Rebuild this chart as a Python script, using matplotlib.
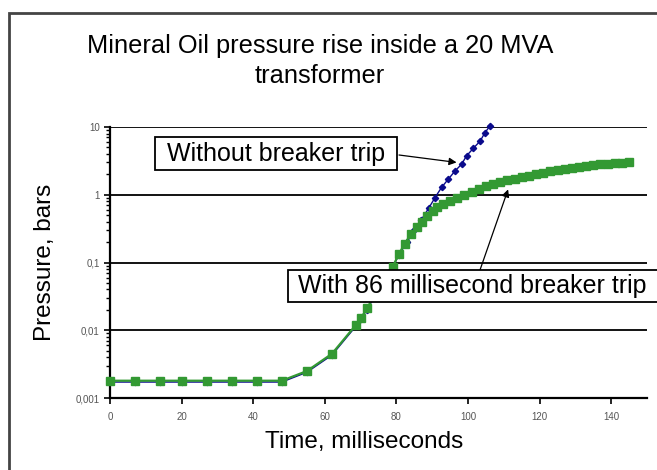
import matplotlib; matplotlib.use("Agg")
import matplotlib.pyplot as plt
from matplotlib.patches import Rectangle
from matplotlib.ticker import LogLocator, FixedLocator, FixedFormatter, NullFormatter

plt.rcParams['font.family'] = ['Liberation Sans', 'DejaVu Sans']
GREEN, NAVY = "#339933", "#0a0a8c"
W, H = 657, 470

# with 86 ms breaker trip (green squares)
t_trip = [0, 7, 14, 20, 27, 34, 41, 48, 55, 62, 68.7, 70.1, 71.7, 79, 80.7, 82.4, 84, 85.7,
          87.1, 88.5, 90.1, 91.4, 93.1, 95, 97, 99, 101, 103, 105, 107, 109, 111, 113, 115,
          117, 119, 121, 123, 125, 127, 129, 131, 133, 135, 137, 139, 141, 143, 145]
p_trip = [0.0018, 0.0018, 0.0018, 0.0018, 0.0018, 0.0018, 0.0018, 0.0018, 0.0025, 0.0045,
          0.012, 0.015, 0.021, 0.087, 0.135, 0.19, 0.264, 0.33, 0.39, 0.49, 0.58, 0.65, 0.73,
          0.82, 0.9, 0.98, 1.08, 1.2, 1.33, 1.45, 1.55, 1.63, 1.72, 1.82, 1.92, 2.02, 2.13,
          2.25, 2.33, 2.42, 2.5, 2.6, 2.67, 2.74, 2.8, 2.86, 2.92, 2.98, 3.05]
# without breaker trip (blue diamonds)
t_free = [0, 7, 14, 20, 27, 34, 41, 48, 55, 62, 68.7, 70.1, 71.7, 79, 80.7, 83, 85, 87, 89,
          90.8, 92.6, 94.5, 96.4, 98.2, 99.6, 101.5, 103.4, 104.7, 106.1]
p_free = [0.00172, 0.00172, 0.00172, 0.00172, 0.00172, 0.00172, 0.00172, 0.00172, 0.0024,
          0.0043, 0.0115, 0.0145, 0.02, 0.085, 0.13, 0.2, 0.3, 0.43, 0.63, 0.91, 1.28, 1.7,
          2.25, 2.82, 3.75, 4.86, 6.2, 8.2, 10.3]

xticks = [0, 20, 40, 60, 80, 100, 120, 140]
yticks = [0.001, 0.01, 0.1, 1, 10]
ylabels = ["0,001", "0,01", "0,1", "1", "10"]

def fx(px): return px / W
def fy(py): return 1 - py / H

fig = plt.figure(figsize=(6.57, 4.70), dpi=100)
fig.patches.append(Rectangle((fx(9), -0.1), 1.2, 0.1 + fy(13), transform=fig.transFigure,
                             fill=False, edgecolor="#444444", lw=2))
ax = fig.add_axes([fx(110), fy(398), fx(537), 271 / H])

ax.plot(t_free, p_free, color=NAVY, lw=1, marker="D", ms=3.2, mec=NAVY, mfc=NAVY, zorder=3,
        clip_on=False)
ax.plot(t_trip, p_trip, color=GREEN, lw=1.6, marker="s", ms=5.5, mec=GREEN, mfc=GREEN,
        zorder=4, clip_on=False)

ax.set_yscale("log")
ax.set_xlim(0, 150)
ax.set_ylim(0.001, 10)
ax.xaxis.set_major_locator(FixedLocator(xticks))
ax.yaxis.set_major_locator(FixedLocator(yticks))
ax.yaxis.set_major_formatter(FixedFormatter(ylabels))
ax.yaxis.set_minor_locator(LogLocator(base=10, subs=range(2, 10)))
ax.yaxis.set_minor_formatter(NullFormatter())
ax.tick_params(axis="both", which="major", labelsize=7, labelcolor="#555555", length=4,
               width=1.2, direction="out")
ax.tick_params(axis="y", which="minor", length=3, width=1)
ax.tick_params(axis="x", pad=6)
for s in ["top", "right"]:
    ax.spines[s].set_visible(False)
for s in ["left", "bottom"]:
    ax.spines[s].set_linewidth(1.6)
for v in yticks[1:]:
    ax.axhline(v, color="black", lw=1.3, zorder=1)

fig.text(fx(364), fy(442), "Time, milliseconds", ha="center", va="center", fontsize=17.5)
fig.text(fx(45), fy(262), "Pressure, bars", ha="center", va="center", rotation=90,
         fontsize=17.5)
fig.text(fx(320), fy(61), "Mineral Oil pressure rise inside a 20 MVA\ntransformer",
         ha="center", va="center", fontsize=18.3, linespacing=1.35)

# annotation boxes
fig.patches.append(Rectangle((fx(155), fy(170)), fx(397 - 155), 33 / H,
                             transform=fig.transFigure, fc="white", ec="black", lw=1.3,
                             zorder=5))
fig.patches.append(Rectangle((fx(288), fy(302)), fx(420), 32 / H,
                             transform=fig.transFigure, fc="white", ec="black", lw=1.3,
                             zorder=5))
fig.text(fx(276), fy(154), "Without breaker trip", ha="center", va="center", fontsize=18,
         zorder=6)
fig.text(fx(298), fy(286), "With 86 millisecond breaker trip", ha="left", va="center",
         fontsize=18, zorder=6)

arr = dict(arrowstyle="-|>", color="black", lw=0.9, mutation_scale=11, shrinkA=0, shrinkB=0)
ax.annotate("", xy=(96.8, 3.0), xytext=(fx(399), fy(155)), textcoords="figure fraction",
            arrowprops=arr, annotation_clip=False)
ax.annotate("", xy=(111.2, 1.2), xytext=(fx(480), fy(270)), textcoords="figure fraction",
            arrowprops=arr, annotation_clip=False)

fig.savefig("out.png", dpi=100)
